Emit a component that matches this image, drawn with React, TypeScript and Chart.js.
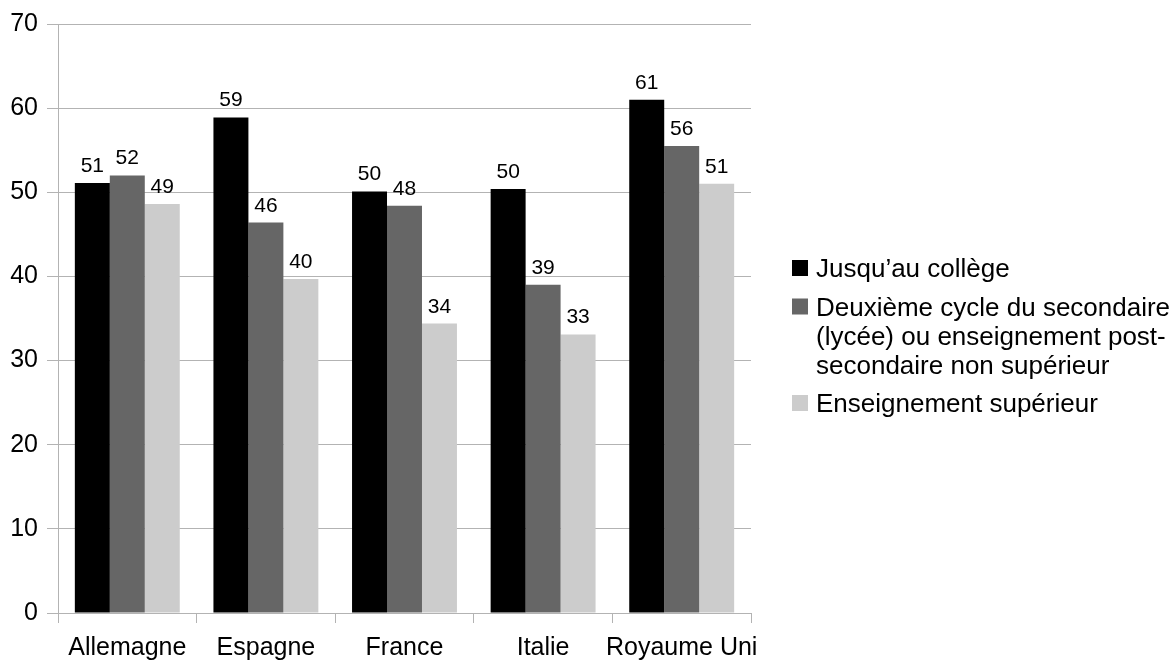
import React, { useEffect, useRef } from "react";
import { Chart, registerables } from "chart.js";

Chart.register(...registerables);

const categories = ["Allemagne", "Espagne", "France", "Italie", "Royaume Uni"];
const seriesNames = [
  "Jusqu\u2019au coll\u00e8ge",
  "Deuxi\u00e8me cycle du secondaire (lyc\u00e9e) ou enseignement post-secondaire non sup\u00e9rieur",
  "Enseignement sup\u00e9rieur",
];
const legendLines = [
  ["Jusqu\u2019au coll\u00e8ge"],
  ["Deuxi\u00e8me cycle du secondaire", "(lyc\u00e9e) ou enseignement post-", "secondaire non sup\u00e9rieur"],
  ["Enseignement sup\u00e9rieur"],
];
const college = [51.1, 58.9, 50.1, 50.4, 61.0];
const lycee = [52.0, 46.4, 48.4, 39.0, 55.5];
const superieur = [48.6, 39.7, 34.4, 33.1, 51.0];
const colors = ["#000000", "#666666", "#cccccc"];
const yTicks = [0, 10, 20, 30, 40, 50, 60, 70];

const FONT = "'Liberation Sans', Arial, sans-serif";
const GRID = "#b3b3b3";

const valueLabels = {
  id: "valueLabels",
  afterDatasetsDraw(chart: any) {
    const ctx = chart.ctx;
    ctx.save();
    ctx.font = `21px ${FONT}`;
    ctx.fillStyle = "#000";
    ctx.textAlign = "center";
    ctx.textBaseline = "alphabetic";
    chart.data.datasets.forEach((ds: any, di: number) => {
      const meta = chart.getDatasetMeta(di);
      meta.data.forEach((el: any, i: number) => {
        ctx.fillText(String(Math.round(ds.data[i])), el.x, el.y - 11);
      });
    });
    ctx.restore();
  },
};

const sideLegend = {
  id: "sideLegend",
  afterDraw(chart: any) {
    const ctx = chart.ctx;
    ctx.save();
    ctx.font = `26px ${FONT}`;
    ctx.textAlign = "left";
    ctx.textBaseline = "alphabetic";
    const x0 = 792;
    let baseline = 277;
    const lineH = 29;
    const gap = 9.5;
    legendLines.forEach((lines, i) => {
      ctx.fillStyle = colors[i];
      ctx.fillRect(x0, baseline - 17, 16, 16);
      ctx.fillStyle = "#000";
      lines.forEach((ln, j) => {
        ctx.fillText(ln, x0 + 24, baseline + j * lineH);
      });
      baseline += lines.length * lineH + gap;
    });
    ctx.restore();
  },
};

export default function App() {
  const ref = useRef<HTMLCanvasElement | null>(null);
  useEffect(() => {
    if (!ref.current) return;
    const chart = new Chart(ref.current, {
      type: "bar",
      data: {
        labels: categories,
        datasets: [college, lycee, superieur].map((d, i) => ({
          label: seriesNames[i],
          data: d,
          backgroundColor: colors[i],
          borderWidth: 0,
          categoryPercentage: 0.757,
          barPercentage: 1.0,
        })),
      },
      options: {
        animation: false,
        responsive: false,
        maintainAspectRatio: false,
        layout: { padding: { left: 0, top: 24, right: 425, bottom: 0 } },
        plugins: {
          legend: { display: false },
          tooltip: { enabled: false },
          title: { display: false },
        },
        scales: {
          x: {
            offset: true,
            grid: {
              offset: true,
              drawOnChartArea: true,
              color: (c: any) => (c.index === 5 ? GRID : "rgba(0,0,0,0)"),
              tickColor: GRID,
              tickLength: 10,
              lineWidth: 1,
            },
            border: { color: GRID },
            ticks: {
              color: "#000",
              font: { family: FONT, size: 25 },
              padding: 10,
              maxRotation: 0,
              autoSkip: false,
            },
            afterFit: (s: any) => {
              s.height = 48;
            },
          },
          y: {
            min: 0,
            max: 70,
            afterBuildTicks: (s: any) => {
              s.ticks = yTicks.map((v) => ({ value: v }));
            },
            grid: { color: GRID, tickColor: GRID, tickLength: 11 },
            border: { color: GRID },
            ticks: {
              color: "#000",
              font: { family: FONT, size: 25 },
              padding: 9,
            },
            afterFit: (s: any) => {
              s.width = 58;
            },
          },
        },
      },
      plugins: [valueLabels, sideLegend],
    });
    return () => chart.destroy();
  }, []);
  return (
    <div style={{ position: "fixed", left: 0, top: 0, width: 1176, height: 661, background: "#fff" }}>
      <canvas ref={ref} width={1176} height={661} style={{ width: 1176, height: 661, display: "block" }} />
    </div>
  );
}
